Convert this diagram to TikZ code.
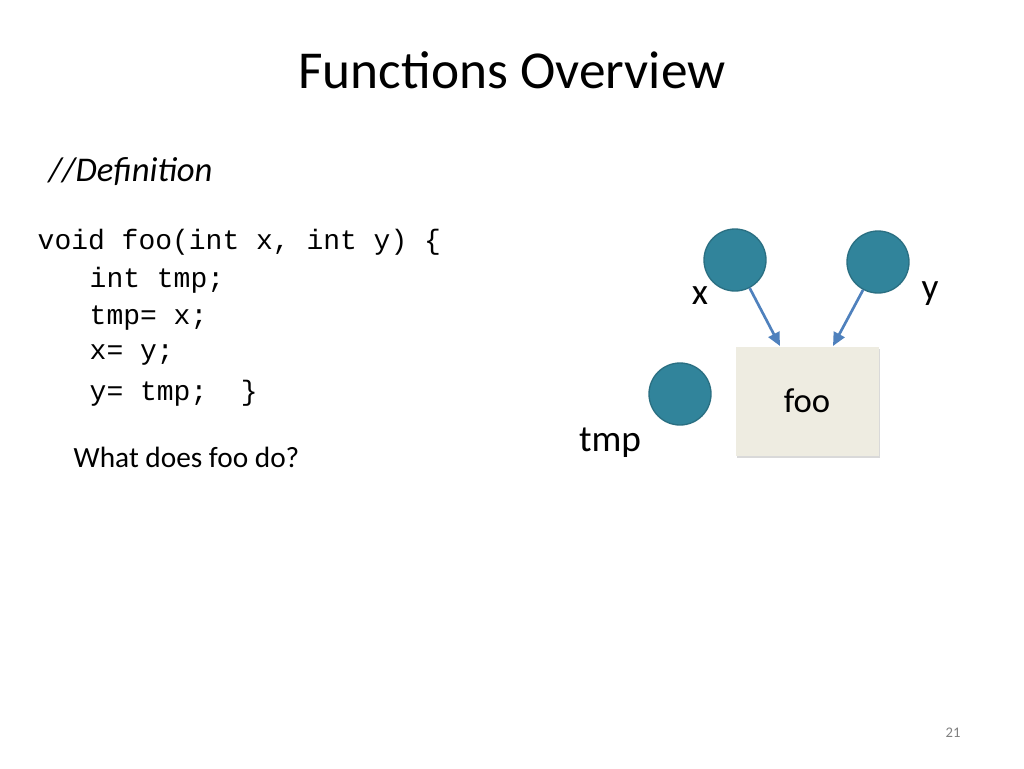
\documentclass[tikz,border=0pt]{standalone}
\usepackage{fontspec}
\setmainfont{Carlito}
\setmonofont{Liberation Mono}
\usetikzlibrary{positioning, arrows.meta, shadows}
\definecolor{ballteal}{HTML}{31849B}
\definecolor{balledge}{HTML}{2A6F82}
\definecolor{boxfill}{HTML}{EEECE1}
\definecolor{arrowblue}{HTML}{4F81BD}
\tikzset{
ball/.style={circle, fill=ballteal, draw=balledge, line width=1pt, minimum size=62pt*0.75, inner sep=0pt}, % variable circles
varlabel/.style={font=\fontsize{28}{30}\selectfont},
codeline/.style={anchor=west, font=\ttfamily\fontsize{21}{24}\selectfont},
pass/.style={-{Triangle[length=10pt,width=9pt]}, arrowblue, line width=2pt},
}
\begin{document}
\begin{tikzpicture}[x=0.75pt, y=-0.75pt]
  \useasboundingbox (0,0) rectangle (1024,768);
  \node (title) at (512,70) {\fontsize{40}{44}\selectfont Functions Overview};
  \node[anchor=west] (def) at (44,172) {\fontsize{26}{28}\selectfont\itshape //Definition};
  % code
  \node[codeline] (c1) at (33,242) {void foo(int x, int y) \{};
  \node[codeline] (c2) at (85,280) {int tmp;};
  \node[codeline] (c3) at (85,318) {tmp= x;};
  \node[codeline] (c4) at (85,355) {x= y;};
  \node[codeline] (c5) at (85,393) {y= tmp;\ \ \}};
  \node[anchor=west] (ask) at (69,457) {\fontsize{22}{24}\selectfont What does foo do?};
  % diagram
  \node[draw=none, fill=boxfill, minimum width=143pt*0.75, minimum height=109pt*0.75,
        drop shadow={shadow xshift=1pt, shadow yshift=-1.5pt, opacity=0.3}] (foo) at (807,401)
        {\fontsize{26}{28}\selectfont foo};
  \node[ball] (x) at (735,260) {};
  \node[ball] (y) at (878,262) {};
  \node[ball] (tmp) at (680,394) {};
  \node[varlabel] (xl) at (700,296) {x};
  \node[varlabel] (yl) at (930,294) {y};
  \node[varlabel] (tmpl) at (610,443) {tmp};
  \draw[pass] (x) -- (780,346);
  \draw[pass] (y) -- (833,346);
  \node[text=gray] (page) at (953,733) {\fontsize{11}{12}\selectfont 21};
\end{tikzpicture}
\end{document}
